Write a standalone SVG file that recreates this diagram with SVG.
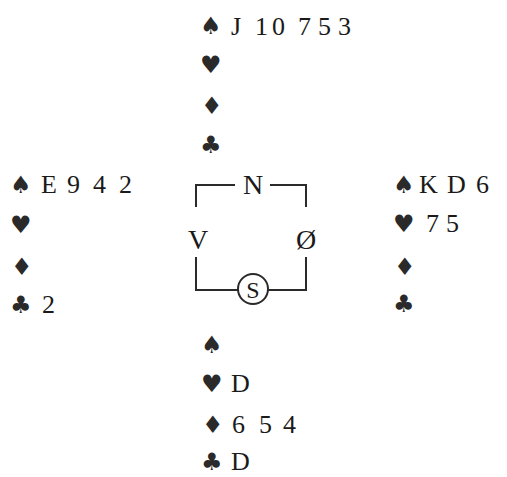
<svg xmlns="http://www.w3.org/2000/svg" width="507" height="477" viewBox="0 0 507 477">
<style>
.t{font-family:"Liberation Serif","Times New Roman",serif;font-size:26px;fill:#1a1a1a}
.s{font-family:"DejaVu Sans",sans-serif;font-size:24px;fill:#2a2a2a}
.c{font-family:"Liberation Serif","Times New Roman",serif;font-size:28px;fill:#1a1a1a;text-anchor:middle}
.ln{stroke:#2a2a2a;stroke-width:2;fill:none}
</style>
<rect width="507" height="477" fill="#fff"/>
<g id="north">
<text class="s" x="200" y="34">♠</text>
<text class="t" y="35"><tspan x="231">J</tspan><tspan x="255">1</tspan><tspan x="272">0</tspan><tspan x="298">7</tspan><tspan x="318">5</tspan><tspan x="338">3</tspan></text>
<text class="s" x="200" y="73">♥</text>
<text class="s" x="201" y="114">♦</text>
<text class="s" x="200" y="153">♣</text>
</g>
<g id="west">
<text class="s" x="10" y="193">♠</text>
<text class="t" y="193"><tspan x="41">E</tspan><tspan x="67">9</tspan><tspan x="93">4</tspan><tspan x="119">2</tspan></text>
<text class="s" x="10" y="233">♥</text>
<text class="s" x="11" y="275">♦</text>
<text class="s" x="10" y="313">♣</text>
<text class="t" x="42" y="313">2</text>
</g>
<g id="east">
<text class="s" x="393" y="193">♠</text>
<text class="t" y="193"><tspan x="419">K</tspan><tspan x="447">D</tspan><tspan x="476">6</tspan></text>
<text class="s" x="393" y="232">♥</text>
<text class="t" y="232"><tspan x="426">7</tspan><tspan x="446">5</tspan></text>
<text class="s" x="394" y="275">♦</text>
<text class="s" x="393" y="312">♣</text>
</g>
<g id="south">
<text class="s" x="201" y="353">♠</text>
<text class="s" x="201" y="392">♥</text>
<text class="t" x="231" y="392">D</text>
<text class="s" x="202" y="433">♦</text>
<text class="t" y="433"><tspan x="232">6</tspan><tspan x="259">5</tspan><tspan x="283">4</tspan></text>
<text class="s" x="201" y="470">♣</text>
<text class="t" x="231" y="470">D</text>
</g>
<g id="compass">
<path class="ln" d="M196,207 V185 H235 M270,185 H306 V207 M196,257 V290 H238 M268,290 H306 V257"/>
<circle class="ln" cx="253" cy="289" r="15"/>
<text class="c" x="253" y="194">N</text>
<text class="c" x="198" y="249">V</text>
<text class="c" x="306" y="249">Ø</text>
<text class="c" x="253" y="298" style="font-size:24px">S</text>
</g>
</svg>
